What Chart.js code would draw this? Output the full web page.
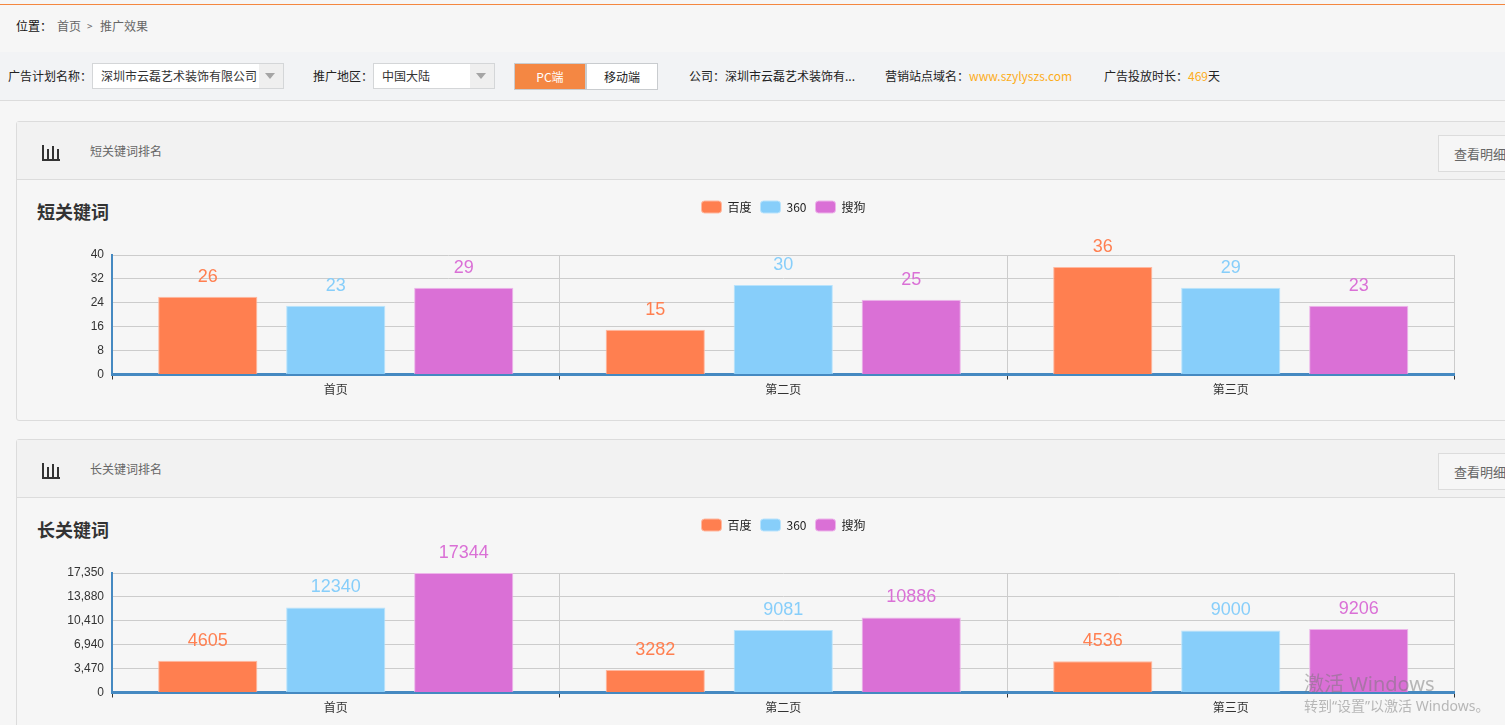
<!DOCTYPE html>
<html>
<head>
<meta charset="utf-8">
<title>推广效果</title>
<script src="https://cdn.jsdelivr.net/npm/chart.js@4"></script>
<style>
html, body { margin: 0; padding: 0; width: 1505px; height: 725px; overflow: hidden; background: #f6f6f6; }
body { position: relative; font: 12px "Noto Sans CJK SC", sans-serif; color: #333; }
.abs { position: absolute; white-space: nowrap; line-height: 16px; }
.topline { position: absolute; left: 0; top: 4px; width: 1505px; height: 1px; background: #f4873f; }
.filter { position: absolute; left: 0; top: 52px; width: 1505px; height: 48px; background: #f2f3f5; border-bottom: 1px solid #dcdcdc; }
.select { position: absolute; top: 63px; height: 24px; background: #fff; border: 1px solid #d4d6d8; }
.select i { position: absolute; right: 0; top: 0; width: 24px; height: 24px; background: #efefef; }
.select i::after { content: ""; position: absolute; left: 6px; top: 9px; border: 5px solid transparent; border-top: 6px solid #a5a5a5; border-bottom: 0; }
.select span { position: absolute; left: 8px; top: 4px; line-height: 16px; white-space: nowrap; }
.tab { position: absolute; top: 63px; height: 25px; width: 70px; text-align: center; line-height: 25px; border: 1px solid #c9cccf; }
.card { position: absolute; left: 16px; width: 1500px; height: 300px; border: 1px solid #dcdcdc; border-radius: 3px; box-sizing: border-box; }
.card .head { position: absolute; left: 0; top: 0; right: 0; height: 57px; background: #f2f2f2; border-bottom: 1px solid #dcdcdc; }
.card .name { position: absolute; left: 73px; top: 21px; line-height: 16px; color: #666; }
.card .btn { position: absolute; left: 1421px; top: 13px; width: 90px; height: 37px; background: #f6f6f6; border: 1px solid #dcdcdc; color: #666; font-size: 13px; line-height: 36px; padding-left: 15px; box-sizing: border-box; white-space: nowrap; }
.card svg { position: absolute; left: 24px; top: 21px; }
.title { position: absolute; left: 37px; font-size: 18px; font-weight: bold; color: #333; line-height: 24px; }
canvas { position: absolute; left: 62px; }
.mark { position: absolute; color: rgba(120,120,120,.5); white-space: nowrap; z-index: 5; font-family: "Noto Sans", "Noto Sans CJK SC", sans-serif; }
</style>
</head>
<body>
<div class="topline"></div>
<div class="abs" style="left:16px;top:18px;color:#111">位置：</div>
<div class="abs" style="left:57px;top:18px;color:#666">首页</div>
<div class="abs" style="left:87px;top:18px;color:#666;font-size:10px">&gt;</div>
<div class="abs" style="left:100px;top:18px;color:#666">推广效果</div>

<div class="filter"></div>
<div class="abs" style="left:8px;top:68px;color:#222">广告计划名称：</div>
<div class="select" style="left:92px;width:190px"><span>深圳市云磊艺术装饰有限公司</span><i></i></div>
<div class="abs" style="left:313px;top:68px;color:#222">推广地区：</div>
<div class="select" style="left:373px;width:120px"><span>中国大陆</span><i></i></div>
<div class="tab" style="left:514px;background:#f48743;color:#fff">PC端</div>
<div class="tab" style="left:586px;background:#fff;color:#222">移动端</div>
<div class="abs" style="left:689px;top:68px;color:#222">公司：深圳市云磊艺术装饰有...</div>
<div class="abs" style="left:885px;top:68px;color:#222">营销站点域名：<span style="color:#fdad1c">www.szylyszs.com</span></div>
<div class="abs" style="left:1104px;top:68px;color:#222">广告投放时长：<span style="color:#fdad1c">469</span>天</div>

<div class="card" style="top:121px">
  <div class="head">
    <svg width="20" height="18" style="top:22px"><path d="M2 1V16M7 5V16M12 2V16M17 5V16M1 16H19" stroke="#333" stroke-width="2" fill="none"/></svg>
    <div class="name">短关键词排名</div><div class="btn">查看明细</div>
  </div>
</div>
<div class="title" style="top:199px">短关键词</div>
<canvas id="shortChart" width="1443" height="220" style="top:190px;width:1443px;height:220px"></canvas>

<div class="card" style="top:439px">
  <div class="head">
    <svg width="20" height="18" style="top:22px"><path d="M2 1V16M7 5V16M12 2V16M17 5V16M1 16H19" stroke="#333" stroke-width="2" fill="none"/></svg>
    <div class="name">长关键词排名</div><div class="btn">查看明细</div>
  </div>
</div>
<div class="title" style="top:517px">长关键词</div>
<canvas id="longChart" width="1443" height="220" style="top:508px;width:1443px;height:220px"></canvas>

<div class="mark" style="left:1304px;top:668px;font-size:20px">激活 Windows</div>
<div class="mark" style="left:1304px;top:695px;font-size:14px">转到“设置”以激活 Windows。</div>

<script>
const pages = ['首页', '第二页', '第三页'];
const engines = ['百度', '360', '搜狗'];
const engineColors = ['#ff7f50', '#87cefa', '#da70d6'];
const engineEdges = ['#ffb8a0', '#b9e3fc', '#edb5ea'];

const shortBaidu = [26, 15, 36];
const short360 = [23, 30, 29];
const shortSogou = [29, 25, 23];
const shortTicks = [0, 8, 16, 24, 32, 40];

const longBaidu = [4605, 3282, 4536];
const long360 = [12340, 9081, 9000];
const longSogou = [17344, 10886, 9206];
const longTicks = [0, 3470, 6940, 10410, 13880, 17350];

// draws the number above every bar, same colour as the bar
const barValues = {
    id: 'barValues',
    afterDatasetsDraw(chart) {
        const c = chart.ctx;
        c.save();
        c.font = '18px "Liberation Sans", Arial, sans-serif';
        c.textAlign = 'center';
        c.textBaseline = 'middle';
        chart.data.datasets.forEach((ds, i) => {
            c.fillStyle = ds.backgroundColor;
            chart.getDatasetMeta(i).data.forEach((bar, j) => {
                c.fillText(ds.data[j], bar.x, bar.y - 20);
            });
        });
        c.restore();
    }
};

// legend box takes up all the room above the plot
const legendGap = {
    id: 'legendGap',
    beforeInit(chart) {
        const fit = chart.legend.fit;
        chart.legend.fit = function () {
            fit.call(this);
            this.height = 63;
        };
    }
};

function drawChart(id, series, ticks) {
    new Chart(document.getElementById(id), {
        type: 'bar',
        data: {
            labels: pages,
            datasets: series.map((values, i) => ({
                label: engines[i],
                data: values,
                backgroundColor: engineColors[i],
                borderColor: engineEdges[i],
                borderWidth: 1,
                categoryPercentage: 0.858,
                barPercentage: 0.775
            }))
        },
        options: {
            responsive: false,
            animation: false,
            layout: { padding: { top: 2, right: 0, left: 0, bottom: 0 } },
            plugins: {
                tooltip: { enabled: false },
                legend: {
                    position: 'top',
                    labels: {
                        boxWidth: 20,
                        boxHeight: 12,
                        useBorderRadius: true,
                        borderRadius: 3,
                        padding: 9,
                        color: '#222',
                        font: { size: 12, family: '"Noto Sans CJK SC", sans-serif' }
                    }
                }
            },
            scales: {
                x: {
                    afterFit: s => { s.height = 35.5; },
                    grid: { color: '#cccccc', tickColor: '#333', tickLength: 5, offset: true },
                    border: { color: '#4589c1', width: 3 },
                    ticks: { color: '#333', padding: 3, font: { size: 12, family: '"Noto Sans CJK SC", sans-serif' } }
                },
                y: {
                    min: ticks[0],
                    max: ticks[ticks.length - 1],
                    afterFit: s => { s.width = 50; },
                    afterBuildTicks: s => { s.ticks = ticks.map(v => ({ value: v })); },
                    grid: { color: '#cccccc', drawTicks: false },
                    border: { color: '#4589c1', width: 2 },
                    ticks: { color: '#333', padding: 8, font: { size: 12, family: '"Liberation Sans", Arial, sans-serif' } }
                },
                // empty axis, keeps the plot clear of the right edge without moving the legend
                spacer: {
                    position: 'right',
                    afterFit: s => { s.width = 50.5; },
                    grid: { display: false },
                    border: { display: false },
                    ticks: { display: false }
                }
            }
        },
        plugins: [legendGap, barValues]
    });
}

drawChart('shortChart', [shortBaidu, short360, shortSogou], shortTicks);
drawChart('longChart', [longBaidu, long360, longSogou], longTicks);
</script>
</body>
</html>
